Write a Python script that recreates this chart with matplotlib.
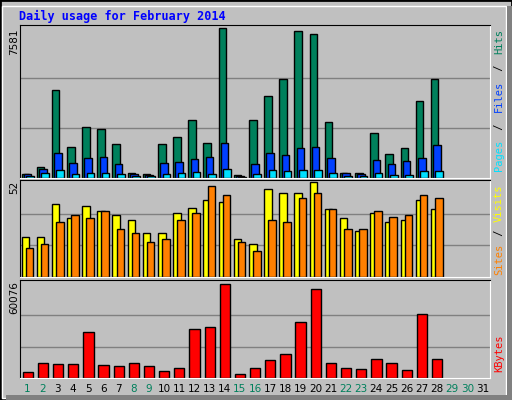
import numpy as np
import matplotlib.pyplot as plt
from matplotlib.patches import Rectangle

days = np.arange(1, 32)
hits = [223, 549, 4442, 1561, 2590, 2487, 1715, 274, 223, 1715, 2075, 2950, 1767, 7581,
        170, 2950, 4133, 5008, 7427, 7272, 2847, 274, 274, 2281, 1200, 1509, 3876, 5008]
files = [223, 480, 1252, 737, 995, 1046, 686, 223, 170, 737, 789, 943, 1046, 1767,
         120, 686, 1252, 1149, 1509, 1561, 995, 274, 223, 892, 686, 840, 995, 1664]
pages = [120, 274, 429, 223, 274, 274, 223, 120, 120, 223, 274, 326, 223, 480,
         69, 223, 429, 377, 429, 429, 274, 120, 120, 274, 170, 170, 377, 377]
visits = [22, 22, 40, 32, 39, 36, 34, 31, 24, 24, 35, 38, 42, 41,
          21, 18, 48, 46, 46, 52, 37, 32, 25, 35, 30, 31, 42, 37]
sites = [16, 18, 30, 34, 32, 36, 26, 24, 19, 21, 31, 35, 50, 45,
         19, 14, 31, 30, 43, 46, 37, 26, 26, 36, 33, 34, 45, 43]
kbytes = [3508, 9428, 8770, 8770, 29161, 8112, 7455, 9428, 7455, 4166, 6139, 31134, 32450, 60076,
          2850, 6139, 11401, 15348, 35739, 56787, 9428, 6139, 5481, 12059, 9428, 4824, 41000, 12059]
weekend = [1, 2, 8, 9, 15, 16, 22, 23, 29, 30]

W, H = 512, 400
bg = "#c0c0c0"
fig = plt.figure(figsize=(W / 100, H / 100), dpi=100, facecolor=bg)
fig.patches.append(Rectangle((0, 0), 1, 1, transform=fig.transFigure, fill=False,
                             edgecolor="black", linewidth=2))
fig.patches.append(Rectangle((2 / W, 2 / H), 1 - 8 / W, 1 - 8 / H, transform=fig.transFigure,
                             fill=False, edgecolor="white", linewidth=1))
fig.patches.append(Rectangle((6 / W, 0), 1 - 6 / W, 5 / H, transform=fig.transFigure,
                             facecolor="#808080", edgecolor="none"))
fig.patches.append(Rectangle((1 - 5 / W, 0), 5 / W, 1 - 6 / H, transform=fig.transFigure,
                             facecolor="#808080", edgecolor="none"))

fig.text(19 / W, 1 - 16 / H, "Daily usage for February 2014", color="#0000ff",
         family="DejaVu Sans Mono", weight="bold", fontsize=8.5, va="center")


def panel(top, bottom):
    ax = fig.add_axes([20 / W, 1 - bottom / H, 470 / W, (bottom - top) / H])
    ax.set_facecolor(bg)
    ax.set_xlim(0.5, 31.5)
    ax.set_xticks([])
    ax.set_yticks([])
    for s in ("top", "left"):
        ax.spines[s].set_color("black")
    for s in ("bottom", "right"):
        ax.spines[s].set_color("white")
    return ax


def side_label(parts, ytop, ybot):
    # rotated colored words, read bottom to top
    n = sum(len(t) for t, c in parts)
    y = ybot
    step = (ybot - ytop) / n
    for t, c in parts:
        h = len(t) * step
        fig.text(499 / W, 1 - (y - h / 2) / H, t, color=c, rotation=90, ha="center",
                 va="center", family="DejaVu Sans Mono", fontsize=7.5)
        y -= h


ax1 = panel(25, 178)
x = days[:len(hits)]
top1 = 7581
ax1.set_ylim(0, top1 * 1.02)
for g in (top1 / 3, 2 * top1 / 3):
    ax1.axhline(g, color="#808080", linewidth=1, zorder=0)
kw = dict(width=0.5, align="edge", edgecolor="black", linewidth=1)
ax1.bar(x - 0.4, hits, color="#00805c", **kw)
ax1.bar(x - 0.25, files, color="#0040ff", **kw)
ax1.bar(x - 0.1, pages, color="#00e0ff", **kw)
fig.text(14 / W, 1 - 42 / H, "7581", rotation=90, ha="center", va="center",
         family="DejaVu Sans", fontsize=7.5)
side_label([("Pages", "#00e0ff"), (" / ", "black"), ("Files", "#0040ff"),
            (" / ", "black"), ("Hits", "#00805c")], 27, 174)

ax2 = panel(180, 277)
top2 = 52
ax2.set_ylim(0, top2 * 1.02)
for g in (top2 / 3, 2 * top2 / 3):
    ax2.axhline(g, color="#808080", linewidth=1, zorder=0)
ax2.bar(x - 0.4, visits, color="#ffff00", **kw)
ax2.bar(x - 0.13, sites, color="#ff8000", **kw)
fig.text(14 / W, 1 - 187 / H, "52", rotation=90, ha="center", va="center",
         family="DejaVu Sans", fontsize=7.5)
side_label([("Sites", "#ff8000"), (" / ", "black"), ("Visits", "#ffff00")], 183, 276)

ax3 = panel(280, 378)
top3 = 60076
ax3.set_ylim(0, top3 * 1.04)
for g in (top3 / 3, 2 * top3 / 3):
    ax3.axhline(g, color="#808080", linewidth=1, zorder=0)
ax3.bar(x - 0.33, kbytes, color="#ff0000", width=0.68, align="edge",
        edgecolor="black", linewidth=1)
fig.text(14 / W, 1 - 298 / H, "60076", rotation=90, ha="center", va="center",
         family="DejaVu Sans", fontsize=7.5)
side_label([("KBytes", "#ff0000")], 330, 376)

for d in days:
    xp = 20 + (d - 0.5) / 31 * 470
    fig.text(xp / W, 1 - 389 / H, str(d), ha="center", va="center", fontsize=7.5,
             color="#00805c" if d in weekend else "black", family="DejaVu Sans")

fig.savefig("out.png", dpi=100, facecolor=bg)
